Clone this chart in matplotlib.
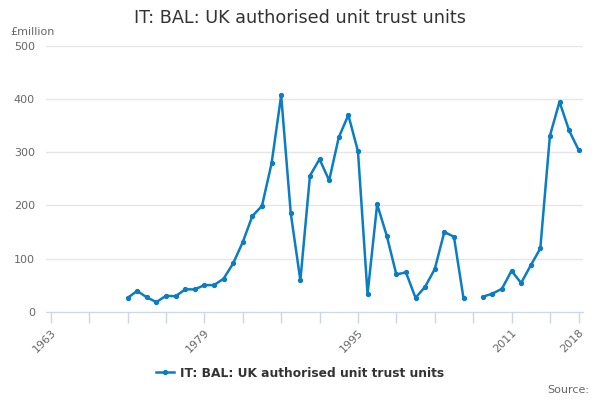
import numpy as np
import matplotlib
matplotlib.use('Agg')
import matplotlib.pyplot as plt

years = list(range(1971, 2019))
values = [26, 39, 27, 18, 30, 29, 42, 42, 50, 50, 62, 91, 131, 180, 199, 279,
          407, 185, 59, 256, 287, 247, 328, 370, 302, 33, 202, 143, 70, 74,
          26, 47, 80, 150, 141, 25, np.nan, 28, 34, 43, 77, 54, 87, 119, 331,
          395, 341, 304]
tick_years = list(range(1963, 2016, 4)) + [2018]
label_years = [1963, 1979, 1995, 2011, 2018]
series_name = "IT: BAL: UK authorised unit trust units"

fig = plt.figure(figsize=(6, 4), dpi=100)
ax = fig.add_axes([0.0767, 0.2208, 0.895, 0.6642])

ax.plot(years, values, color='#0b7dc2', lw=1.8, marker='o', ms=2.8,
        label=series_name)

ax.set_xlim(1962.5, 2018.45)
ax.set_ylim(0, 500)
ax.set_yticks(range(0, 501, 100))
ax.set_xticks(tick_years)
ax.set_xticklabels([str(y) if y in label_years else '' for y in tick_years],
                   rotation=45, ha='right', rotation_mode='anchor')
ax.grid(axis='y', color='#e6e6e6', lw=1)
ax.set_axisbelow(True)
for s in ['top', 'right', 'left']:
    ax.spines[s].set_visible(False)
ax.spines['bottom'].set_color('#ccd6eb')
ax.tick_params(axis='x', colors='#ccd6eb', length=8, width=1, labelcolor='#666666', labelsize=8)
ax.tick_params(axis='y', length=0, labelcolor='#666666', labelsize=8, pad=8)

fig.text(0.5, 0.955, series_name, ha='center', va='center', fontsize=12.7, color='#333333')
fig.text(0.017, 0.92, '£million', ha='left', va='center', fontsize=8, color='#666666')
fig.text(0.982, 0.025, 'Source:', ha='right', va='center', fontsize=8, color='#666666')

leg = fig.legend(loc='center', bbox_to_anchor=(0.5, 0.067), frameon=False,
                 prop={'weight': 'bold', 'size': 8.8}, handlelength=1.5, handletextpad=0.5)
for t in leg.get_texts():
    t.set_color('#333333')

fig.savefig('out.png', dpi=100)
